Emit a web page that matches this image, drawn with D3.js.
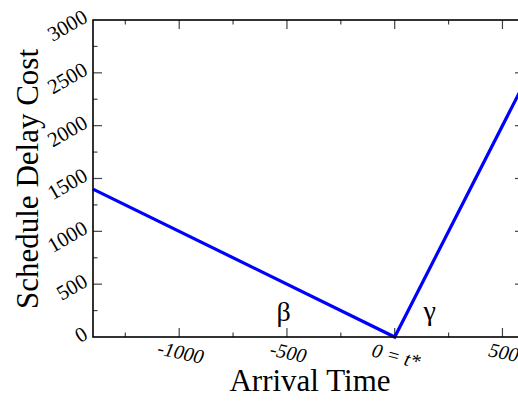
<!DOCTYPE html>
<html>
<head>
<meta charset="utf-8">
<script src="https://cdn.jsdelivr.net/npm/d3@7"></script>
<style>
  html, body { margin: 0; padding: 0; background: #fff; }
  svg text { font-family: "Liberation Serif", "Times New Roman", Times, "DejaVu Serif", serif; }
</style>
</head>
<body>
<svg id="chart" width="518" height="401"></svg>
<script>
// schedule delay cost: early arrivals cost beta per unit, late ones gamma
const arrivalTimes = [-1400, 0, 600];
const delayCosts = [1400, 0, 2400];
const xMajorTicks = [-1000, -500, 0, 500];
const xTickLabels = ['-1000', '-500', '0 = t*', '500'];
const yMajorTicks = [0, 500, 1000, 1500, 2000, 2500, 3000];
const slopeLabels = ['β', 'γ'];
const slopeLabelX = [-515, 162];
const slopeLabelY = [150, 160];

const margin = { left: 93, right: -6, top: 20, bottom: 64 };
const size = { width: 518, height: 401 };

const svg = d3.select('#chart');

const xScale = d3.scaleLinear()
    .domain([-1400, 600])
    .range([margin.left, size.width - margin.right]);

const yScale = d3.scaleLinear()
    .domain([0, 3000])
    .range([size.height - margin.bottom, margin.top]);

const x0 = xScale.range()[0], x1 = xScale.range()[1];
const y0 = yScale.range()[0], y1 = yScale.range()[1];

const xMinor = d3.range(-1250, 600, 250).filter(v => !xMajorTicks.includes(v));
const yMinor = d3.range(250, 3000, 250).filter(v => !yMajorTicks.includes(v));

// ticks pointing inward on all four sides
const tickGroup = svg.append('g').attr('stroke', '#444').attr('stroke-width', 1.2);
const addTicks = (vals, len) => {
    vals.forEach(v => {
        tickGroup.append('line').attr('x1', xScale(v)).attr('x2', xScale(v)).attr('y1', y0).attr('y2', y0 - len);
        tickGroup.append('line').attr('x1', xScale(v)).attr('x2', xScale(v)).attr('y1', y1).attr('y2', y1 + len);
    });
};
const addYTicks = (vals, len) => {
    vals.forEach(v => {
        tickGroup.append('line').attr('x1', x0).attr('x2', x0 + len).attr('y1', yScale(v)).attr('y2', yScale(v));
        tickGroup.append('line').attr('x1', x1).attr('x2', x1 - len).attr('y1', yScale(v)).attr('y2', yScale(v));
    });
};
addTicks(xMajorTicks, 9);
addTicks(xMinor, 4.5);
addYTicks(yMajorTicks.slice(1, -1), 9);
addYTicks(yMinor, 4.5);

// the cost curve
const line = d3.line()
    .x(d => xScale(d[0]))
    .y(d => yScale(d[1]));

svg.append('path')
    .datum(d3.zip(arrivalTimes, delayCosts))
    .attr('d', line)
    .attr('fill', 'none')
    .attr('stroke', '#0000ff')
    .attr('stroke-width', 3.2)
    .attr('stroke-linejoin', 'miter');

// frame
svg.append('rect')
    .attr('x', x0)
    .attr('y', y1)
    .attr('width', x1 - x0)
    .attr('height', y0 - y1)
    .attr('fill', 'none')
    .attr('stroke', '#000')
    .attr('stroke-width', 1.6);

// y tick labels, tilted
svg.append('g')
    .selectAll('text')
    .data(yMajorTicks)
    .join('text')
    .attr('transform', d => `translate(${x0 - 4}, ${yScale(d) + 1}) rotate(-30)`)
    .attr('text-anchor', 'end')
    .style('font-size', '21px')
    .text(d => d);

// x tick labels, italic and tilted
svg.append('g')
    .selectAll('text')
    .data(d3.zip(xMajorTicks, xTickLabels))
    .join('text')
    .attr('transform', d => d[0] === 0
        ? `translate(${xScale(d[0]) - 24}, ${y0 + 19}) rotate(15)`
        : `translate(${xScale(d[0])}, ${y0 + 22}) rotate(12)`)
    .attr('text-anchor', d => d[0] === 0 ? 'start' : 'middle')
    .style('font-size', '20px')
    .style('font-style', 'italic')
    .text(d => d[1]);

// slope labels
svg.append('g')
    .selectAll('text')
    .data(d3.zip(slopeLabels, slopeLabelX, slopeLabelY))
    .join('text')
    .attr('x', d => xScale(d[1]))
    .attr('y', d => yScale(d[2]))
    .attr('text-anchor', 'middle')
    .style('font-size', '28px')
    .text(d => d[0]);

// axis titles
svg.append('text')
    .attr('x', 310)
    .attr('y', 391)
    .attr('text-anchor', 'middle')
    .style('font-size', '31px')
    .text('Arrival Time');

svg.append('text')
    .attr('transform', `translate(38, ${(margin.top + 315 + 23) / 2}) rotate(-90)`)
    .attr('text-anchor', 'middle')
    .style('font-size', '31px')
    .text('Schedule Delay Cost');
</script>
</body>
</html>
